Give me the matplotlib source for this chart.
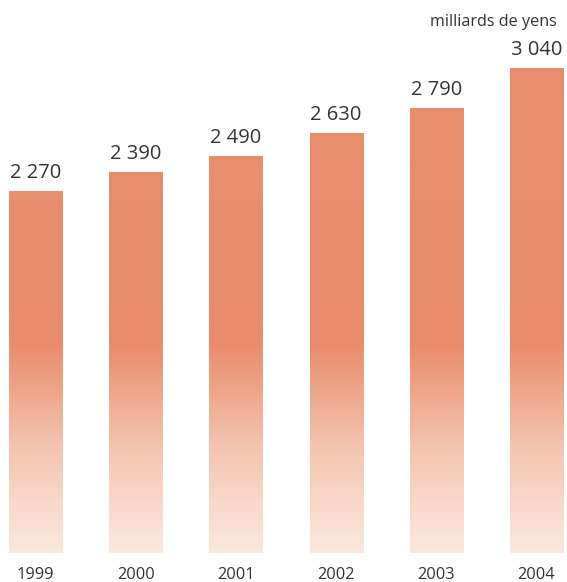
import numpy as np
import matplotlib
matplotlib.use("Agg")
import matplotlib.pyplot as plt
from matplotlib.colors import LinearSegmentedColormap

years = ["1999", "2000", "2001", "2002", "2003", "2004"]
values = [2270, 2390, 2490, 2630, 2790, 3040]
value_labels = ["2 270", "2 390", "2 490", "2 630", "2 790", "3 040"]
unit_label = "milliards de yens"

plt.rcParams['font.family'] = ['Open Sans', 'DejaVu Sans']

fig = plt.figure(figsize=(5.67, 5.82), dpi=100)
ax = fig.add_axes([0, 29/582, 1, 553/582])

x = np.arange(len(values))
ymax = 3466
bars = ax.bar(x, values, width=0.53, color='none', edgecolor='none')

cmap = LinearSegmentedColormap.from_list(
    "grad", [(0.0, "#fbe8de"), (0.18, "#f4c7b3"), (0.38, "#e88c6b"),
             (0.45, "#e88d6c"), (1.0, "#e88f6f")])
grad = np.linspace(0, 1, 512).reshape(-1, 1)
for b in bars:
    im = ax.imshow(grad, cmap=cmap, origin='lower', aspect='auto',
                   extent=(b.get_x(), b.get_x() + b.get_width(), 0, ymax),
                   interpolation='bilinear', zorder=2)
    im.set_clip_path(b)

for xi, v, lab in zip(x, values, value_labels):
    ax.text(xi, v + 50, lab, ha='center', va='bottom', fontsize=14.5,
            color='#333333')

ax.set_xlim(-0.354, 5.304)
ax.set_ylim(0, ymax)
ax.axis('off')

for xi, yr in zip(x, years):
    ax.text(xi, -0.040, yr, ha='center', va='center',
            fontsize=11.8, color='#333333', clip_on=False,
            transform=ax.get_xaxis_transform())

fig.text(557/567, 1 - 22/582, unit_label, ha='right', va='center',
         fontsize=11.6, color='#333333')

fig.savefig("out.png", dpi=100, facecolor='white')
